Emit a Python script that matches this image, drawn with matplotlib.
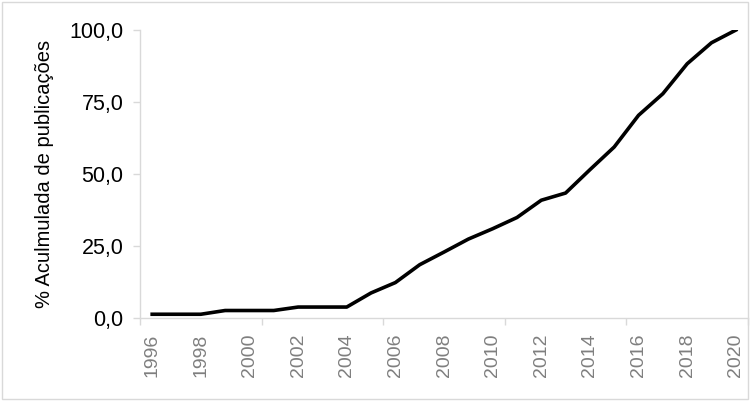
import matplotlib

matplotlib.use("Agg")
import matplotlib.pyplot as plt
from matplotlib.patches import Rectangle
from matplotlib.ticker import FixedLocator, FuncFormatter

years = list(range(1996, 2021))
cumulative_pct = [
    1.3, 1.3, 1.3, 2.6, 2.6, 2.6, 3.8, 3.8, 3.8, 8.7,
    12.3, 18.5, 22.9, 27.4, 31.0, 34.9, 40.9, 43.4, 51.5, 59.4,
    70.4, 77.9, 88.3, 95.6, 100.0,
]
y_ticks = [0, 25, 50, 75, 100]
y_label = "% Aculmulada de publicações"

plt.rcParams["font.family"] = ["Liberation Sans", "DejaVu Sans"]
axis_grey = "#d9d9d9"

fig = plt.figure(figsize=(7.5, 4.01), dpi=100)
ax = fig.add_axes([0.1867, 0.207, 0.8106, 0.718])

idx = list(range(len(years)))
ax.plot(idx, cumulative_pct, color="black", linewidth=2.6, solid_joinstyle="round")

ax.set_xlim(-0.5, len(years) - 0.5)
ax.set_ylim(0, 100)

# y axis
ax.yaxis.set_major_locator(FixedLocator(y_ticks))
ax.yaxis.set_major_formatter(FuncFormatter(lambda v, _: f"{v:.1f}".replace(".", ",")))
ax.tick_params(axis="y", length=5, width=1, color=axis_grey, pad=7,
               labelsize=15.5, labelcolor="black")

# x axis: marks between categories every 5, labels every 2 years
ax.xaxis.set_major_locator(FixedLocator([i - 0.5 for i in range(0, len(years) + 1, 5)]))
ax.xaxis.set_major_formatter(FuncFormatter(lambda v, _: ""))
ax.xaxis.set_minor_locator(FixedLocator(idx[::2]))
ax.xaxis.set_minor_formatter(FuncFormatter(lambda v, _: str(years[int(round(v))])))
ax.tick_params(axis="x", which="major", length=5, width=1, color=axis_grey)
ax.tick_params(axis="x", which="minor", length=0, pad=11, labelsize=14,
               labelcolor="#7f7f7f", labelrotation=90)

for side in ("top", "right"):
    ax.spines[side].set_visible(False)
for side in ("left", "bottom"):
    ax.spines[side].set_color(axis_grey)
    ax.spines[side].set_linewidth(1)

ax.set_ylabel(y_label, fontsize=14.5, color="black")
ax.yaxis.set_label_coords(-0.141, 0.5)

# chart area border
fig.patches.append(Rectangle((0.003, 0.006), 0.994, 0.989, transform=fig.transFigure,
                             fill=False, edgecolor=axis_grey, linewidth=1))

fig.savefig("out.png", dpi=100)
plt.close(fig)
